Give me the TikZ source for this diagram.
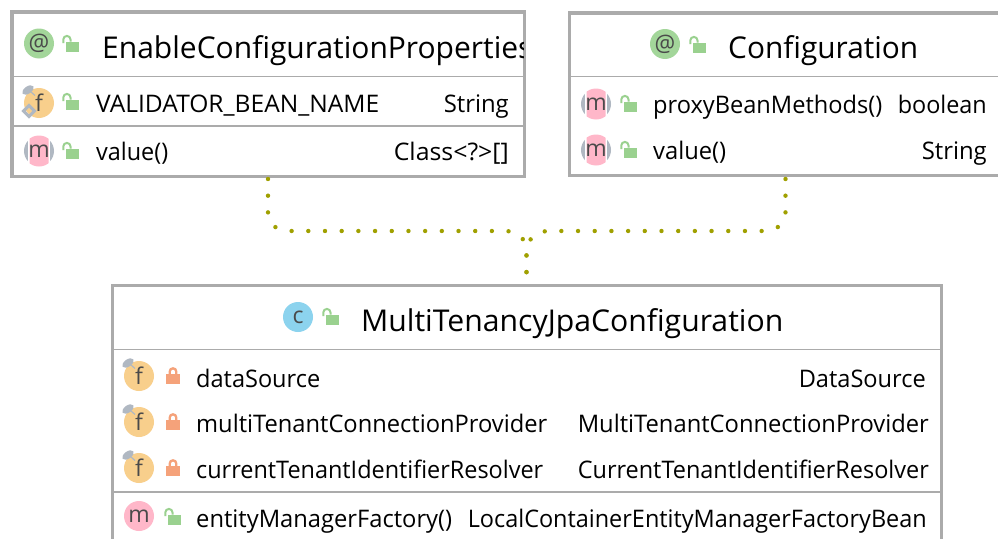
\documentclass[tikz,border=0pt]{standalone}
\usepackage{graphicx}
\usepackage{fontspec}
\setmainfont{Open Sans}
\definecolor{frame}{HTML}{ABABAB}
\definecolor{sep}{HTML}{ABABAB}
\definecolor{dotc}{HTML}{A0A000}
\definecolor{lockg}{HTML}{9AD18F}
\definecolor{locko}{HTML}{F5A27A}
\definecolor{fic}{HTML}{F8CF8C}
\definecolor{mic}{HTML}{FFB7C9}
\definecolor{aic}{HTML}{A3D69A}
\definecolor{cic}{HTML}{8CD3EE}
\definecolor{gic}{HTML}{B0B8C2}
\definecolor{ltr}{HTML}{4A4A4A}
\tikzset{
  x=1pt,y=-1pt,
  frm/.style={draw=frame,line width=3.4pt,fill=white,inner sep=0pt,outer sep=0pt,anchor=north west},
  sepl/.style={draw=sep,line width=1.5pt},
  titlet/.style={inner sep=0pt,anchor=base west,font=\fontsize{30}{30}\selectfont,text=black},
  bodyt/.style={inner sep=0pt,anchor=base west,font=\fontsize{24.2}{26}\selectfont,text=black},
  typet/.style={inner sep=0pt,anchor=base east,font=\fontsize{24.2}{26}\selectfont,text=black},
  icl/.style={inner sep=0pt,font=\fontsize{23}{23}\selectfont,text=ltr},
  icon/.style={circle,minimum size=30pt,inner sep=0pt,outer sep=0pt},
  dotp/.style={draw=dotc,line width=4.4pt,line cap=round,dash pattern=on 0pt off 16.69pt}
}
\newcommand{\tw}[2]{\resizebox{#1pt}{\height}{#2}}
\newcommand{\lockopen}[2]{%
  \begin{scope}[shift={(#1,#2)}]
    \fill[lockg] (-3.3,-1.3) rectangle (10,9.3);
    \draw[lockg,line width=2pt] (-5.7,0) -- (-5.7,-3.5) arc[start angle=180,end angle=360,radius=3.6] -- (1.5,-1.3);
  \end{scope}}
\newcommand{\lockclosed}[2]{%
  \begin{scope}[shift={(#1,#2)}]
    \fill[locko] (-6,-0.7) rectangle (8,9.3);
    \draw[locko,line width=2.3pt] (-2.3,-0.7) -- (-2.3,-3.4) arc[start angle=180,end angle=360,radius=3.3] -- (4.3,-0.7);
  \end{scope}}
\newcommand{\pin}[2]{%
  \begin{scope}[shift={(#1,#2)}]
    \fill[gic,rotate around={35:(-11,-13)}] (-11,-13) ellipse[x radius=6.5,y radius=3.6];
    \draw[gic,line width=1.2pt] (-8,-11) -- (-4,-7.5);
  \end{scope}}
\newcommand{\diam}[2]{%
  \draw[gic,line width=3pt] (#1-4.5,#2+8) -- (#1-10,#2+13.5) -- (#1-15.5,#2+8) -- (#1-10,#2+2.5) -- cycle;}
\newcommand{\ficon}[3]{\node[icon,fill=fic] (#3) at (#1,#2) {}; \pin{#1}{#2}\node[icl] at (#1,#2) {f};}
\newcommand{\micon}[3]{\node[icon,fill=mic] (#3) at (#1,#2) {}; \node[icl] at (#1,#2) {m};}
\newcommand{\mgicon}[3]{%
  \node[icon,fill=gic] (#3) at (#1,#2) {};
  \fill[white] (#1-11,#2-16) rectangle (#1+11,#2+16);
  \begin{scope}\clip (#1-9.3,#2-16) rectangle (#1+9.6,#2+16);\fill[mic] (#1,#2) circle[radius=15.5];\end{scope}
  \node[icl] at (#1,#2) {m};}
\begin{document}
\begin{tikzpicture}
\useasboundingbox (0,0) rectangle (998,538);
\fill[white] (0,0) rectangle (998,538);
\begin{scope}
\clip (0,0) rectangle (998,538);

% ---------- box 1
\node[frm,minimum width=512.3pt,minimum height=164.7pt] (box1) at (12,12) {};
\begin{scope}
  \clip (13,13) rectangle (523,75);
  \node[titlet] (t1) at (102,58) {EnableConfigurationProperties};
\end{scope}
\draw[sepl] (box1.west |- 0,76.3) -- (box1.east |- 0,76.3);
\draw[sepl] (box1.west |- 0,126) -- (box1.east |- 0,126);
\node[icon,fill=aic,icl] (i1) at (39,43.5) {@};
\lockopen{69}{43}
\ficon{39}{103}{i2}\diam{39}{103}
\lockopen{69}{101}
\node[bodyt] (t2) at (96,112) {\tw{283}{VALIDATOR\_BEAN\_NAME}};
\node[typet] (t3) at (509,112) {\tw{65}{String}};
\mgicon{39}{151}{i3}
\lockopen{69}{150}
\node[bodyt] (t4) at (96,160) {\tw{72}{value()}};
\node[typet] (t5) at (509,160) {\tw{115}{Class<?>[]}};

% ---------- box 2
\node[frm,minimum width=460pt,minimum height=162.7pt] (box2) at (569.5,13) {};
\node[icon,fill=aic,icl] (i4) at (665,44) {@};
\lockopen{696}{44}
\node[titlet] (t6) at (728,58) {\tw{190}{Configuration}};
\draw[sepl] (569.5,76.7) -- (998,76.7);
\mgicon{596}{104}{i5}
\lockopen{627}{103}
\node[bodyt] (t7) at (653,113) {\tw{229}{proxyBeanMethods()}};
\node[typet] (t8) at (987,113) {\tw{89}{boolean}};
\mgicon{596}{150}{i6}
\lockopen{627}{149}
\node[bodyt] (t9) at (653,159) {\tw{73}{value()}};
\node[typet] (t10) at (987,159) {\tw{65}{String}};

% ---------- box 3
\node[frm,minimum width=828.5pt,minimum height=300pt] (box3) at (112.7,285.5) {};
\node[icon,fill=cic,icl] (i7) at (298,317) {c};
\lockopen{329}{316}
\node[titlet] (t11) at (361,331) {\tw{422}{MultiTenancyJpaConfiguration}};
\draw[sepl] (112.7,349.3) -- (941.2,349.3);
\ficon{139}{376}{i8}
\lockclosed{172}{375}
\node[bodyt] (t12) at (196,387) {\tw{124}{dataSource}};
\node[typet] (t13) at (926,387) {\tw{127}{DataSource}};
\ficon{139}{422}{i9}
\lockclosed{172}{421}
\node[bodyt] (t14) at (196,432) {\tw{351}{multiTenantConnectionProvider}};
\node[typet] (t15) at (929,432) {\tw{351}{MultiTenantConnectionProvider}};
\ficon{139}{468}{i10}
\lockclosed{172}{467}
\node[bodyt] (t16) at (196,478) {\tw{347}{currentTenantIdentifierResolver}};
\node[typet] (t17) at (929,478) {\tw{351}{CurrentTenantIdentifierResolver}};
\draw[sepl] (112.7,491.8) -- (941.2,491.8);
\micon{139}{516}{i11}
\lockopen{171}{516}
\node[bodyt] (t18) at (196,527) {\tw{256}{entityManagerFactory()}};
\node[typet] (t19) at (927,527) {\tw{459}{LocalContainerEntityManagerFactoryBean}};

% ---------- connectors
\coordinate (c1) at (268,179);
\coordinate (c2) at (785.5,179);
\path (box3.north west) ++(413.8,0) coordinate (c3);
\draw[dotp] (c1) -- (268,213) -- (275,227) -- (291,231) -- (508,231) -- (522.5,238) -- (526.5,254) -- (c3);
\draw[dotp] (c2) -- (785.5,213) -- (778,227) -- (762.5,231) -- (545.5,231) -- (531,238) -- (526.5,254) -- (c3);
\end{scope}
\end{tikzpicture}
\end{document}
